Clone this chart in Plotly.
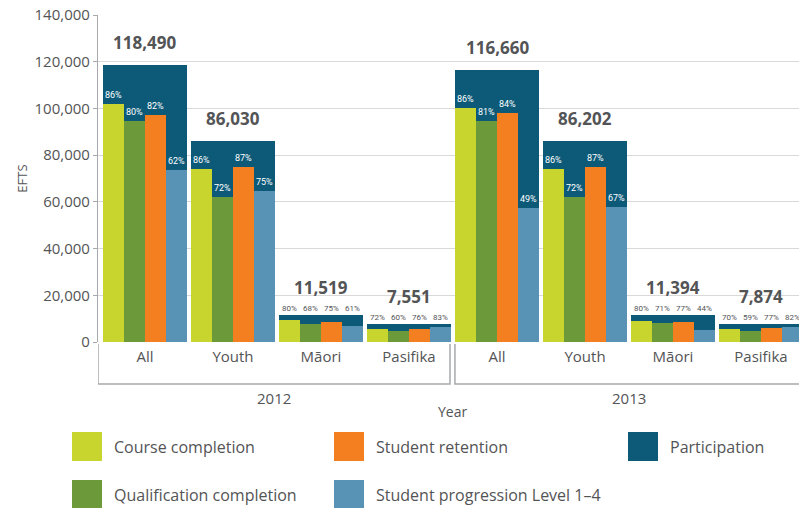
import numpy as np
import plotly.graph_objects as go

# ---------------- data ----------------
years = ["2012", "2013"]
groups = ["All", "Youth", "Māori", "Pasifika"]
tick_labels = groups * len(years)

participation = [118490, 86030, 11519, 7551, 116660, 86202, 11394, 7874]
course_completion = [86, 86, 80, 72, 86, 86, 80, 70]
qualification_completion = [80, 72, 68, 60, 81, 72, 71, 59]
student_retention = [82, 87, 75, 76, 84, 87, 77, 77]
student_progression = [62, 75, 61, 83, 49, 67, 44, 82]

series_names = ["Course completion", "Qualification completion",
                "Student retention", "Student progression Level 1–4"]
series_rates = [course_completion, qualification_completion,
                student_retention, student_progression]

# ---------------- style ----------------
C_LIME = "#c8d52e"
C_GREEN = "#6c9a3b"
C_ORANGE = "#f47f20"
C_BLUE = "#5893b6"
C_DARK = "#0c5a78"
series_colors = [C_LIME, C_GREEN, C_ORANGE, C_BLUE]
TXT = "#535456"
FONT = "Open Sans, Noto Sans, sans-serif"
NARROW = "Liberation Sans Narrow, Roboto, sans-serif"

# page body has an 8px margin -> the figure is offset by 8px
OFF = 8
W, H = 807 - OFF, 508 - OFF
PL, PT, PR, PB = 98, 15, 805, 342          # plot box in window pixels
ML, MT = PL - OFF, PT - OFF
MR = W - (PR - OFF)
MB = H - (PB - OFF)
PW, PH = PR - PL, PB - PT


def px(x):
    return (x - PL) / PW


def py(y):
    return (PB - y) / PH


xpos = np.arange(len(participation))
part = np.array(participation, dtype=float)
bar_w = 0.955
inner_w = bar_w / 4

fig = go.Figure()

fig.add_trace(go.Bar(
    x=xpos, y=part, width=bar_w, name="Participation",
    marker=dict(color=C_DARK, line=dict(width=0)), showlegend=False,
    hoverinfo="y"))

annotations = []
for k, (name, rates, col) in enumerate(zip(series_names, series_rates, series_colors)):
    vals = part * np.array(rates) / 100.0
    off = -bar_w / 2 + k * inner_w
    fig.add_trace(go.Bar(
        x=xpos, y=vals, width=inner_w, offset=off, name=name,
        marker=dict(color=col, line=dict(width=0)), showlegend=False,
        hoverinfo="y"))
    for i, (v, r, t) in enumerate(zip(vals, rates, part)):
        big = t > 20000
        annotations.append(dict(
            x=xpos[i] + off + inner_w / 2, y=v if big else t,
            xref="x", yref="y", text=f"{r}%", showarrow=False,
            yanchor="bottom", yshift=2 if big else 0,
            font=dict(family=NARROW, size=9 if big else 8,
                      color="white" if big else TXT)))

for i, t in enumerate(participation):
    annotations.append(dict(
        x=xpos[i], y=t, xref="x", yref="y", text=f"<b>{t:,}</b>",
        showarrow=False, yanchor="bottom", yshift=9 if t > 20000 else 14,
        font=dict(family=FONT, size=17, color=TXT)))

# year group brackets
shapes = []
n = len(groups)
bracket_bottom = py(384)
bracket_top = py(344)
line_style = dict(color="#a7a9ac", width=1.5)
bracket_x = [(-0.534, n - 0.534), (n - 0.478, 2 * n - 0.52)]
for yr, (x0, x1) in zip(years, bracket_x):
    shapes.append(dict(type="path", xref="x", yref="paper",
                       path=f"M {x0},{bracket_top} L {x0},{bracket_bottom} L {x1},{bracket_bottom} L {x1},{bracket_top}",
                       line=line_style))
    annotations.append(dict(x=(x0 + x1) / 2, y=py(398), xref="x", yref="paper",
                            text=yr, showarrow=False, yanchor="middle",
                            font=dict(family=FONT, size=15, color=TXT)))

annotations.append(dict(x=px(452), y=py(411), xref="paper", yref="paper",
                        text="Year", showarrow=False, yanchor="middle",
                        font=dict(family=FONT, size=14, color=TXT)))

# custom legend
legend_items = [("Course completion", C_LIME), ("Student retention", C_ORANGE),
                ("Participation", C_DARK), ("Qualification completion", C_GREEN),
                ("Student progression Level 1–4", C_BLUE)]
col_x = [72, 334, 628]
row_y = [432, 480]
sw = 30
for idx, (name, col) in enumerate(legend_items):
    r, c = divmod(idx, 3)
    x0 = col_x[c]
    y0 = row_y[r]
    shapes.append(dict(type="rect", xref="paper", yref="paper",
                       x0=px(x0), x1=px(x0 + sw), y0=py(y0), y1=py(y0 + 29),
                       fillcolor=col, line=dict(width=0)))
    annotations.append(dict(x=px(x0 + sw + 10), y=py(y0 + 15), xref="paper", yref="paper",
                            text=name, showarrow=False, xanchor="left", yanchor="middle",
                            font=dict(family=FONT, size=16, color=TXT)))

fig.update_layout(
    width=W, height=H,
    margin=dict(l=ML, r=MR, t=MT, b=MB, autoexpand=False),
    paper_bgcolor="white", plot_bgcolor="white",
    barmode="overlay", bargap=0,
    showlegend=False,
    font=dict(family=FONT, color=TXT),
    shapes=shapes, annotations=annotations,
    xaxis=dict(range=[-0.534, 7.5], tickmode="array", tickvals=xpos,
               ticktext=tick_labels, showgrid=False, zeroline=False,
               showline=False, ticks="", ticklabelstandoff=4, automargin=False,
               tickfont=dict(family=FONT, size=15, color=TXT)),
    yaxis=dict(range=[0, 140000], tickmode="linear", tick0=0, dtick=20000,
               tickformat=",d", automargin=False, ticklabeloverflow="allow",
               showgrid=True, gridcolor="#d9d9d9", gridwidth=1.2,
               zeroline=False, showline=True, linecolor="#a7a9ac", linewidth=1.2,
               ticks="outside", ticklen=4, tickcolor="#a7a9ac",
               tickfont=dict(family=FONT, size=15, color=TXT),
               title=dict(text="EFTS", standoff=4,
                          font=dict(family=FONT, size=13, color=TXT))),
)

fig.write_html("out.html")
